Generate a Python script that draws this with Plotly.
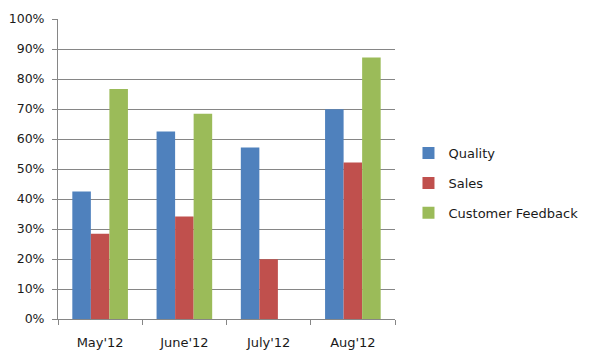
import plotly.graph_objects as go

categories = ["May'12", "June'12", "July'12", "Aug'12"]
quality = [0.425, 0.625, 0.572, 0.699]
sales = [0.284, 0.342, 0.199, 0.522]
feedback = [0.767, 0.684, None, 0.872]
y_ticks = [i / 10 for i in range(11)]
y_tick_labels = [f"{i*10}%" for i in range(11)]

fig = go.Figure()
for name, vals, color in [("Quality", quality, "#4F81BD"),
                          ("Sales", sales, "#C0504D"),
                          ("Customer Feedback", feedback, "#9BBB59")]:
    fig.add_trace(go.Bar(x=categories, y=vals, name=name, marker_color=color,
                         marker_line_width=0, legendgroup=name))

# page body has an 8px margin, so the figure is sized to fit the window
fig.update_layout(
    width=587, height=355,
    margin=dict(l=50, r=191, t=11, b=44),
    paper_bgcolor="white", plot_bgcolor="white",
    barmode="group", bargap=0.34, bargroupgap=0,
    font=dict(family="DejaVu Sans", size=13, color="#1a1a1a"),
    legend=dict(x=1.04, y=0.453, xanchor="left", yanchor="middle",
                tracegroupgap=10, itemwidth=30, font=dict(size=13)),
)
fig.update_xaxes(showline=True, linecolor="#868686", linewidth=1,
                 ticks="outside", tickson="boundaries", ticklen=5,
                 tickcolor="#868686", showgrid=False, automargin=False,
                 ticklabelstandoff=11)
fig.update_yaxes(range=[0, 1], tickvals=y_ticks, ticktext=y_tick_labels,
                 showline=True, linecolor="#868686", linewidth=1,
                 ticks="outside", ticklen=5, tickcolor="#868686",
                 showgrid=True, gridcolor="#868686", gridwidth=1,
                 zeroline=False, automargin=False, ticklabelstandoff=5,
                 tickfont=dict(size=12.5))

fig.write_html("out.html")
